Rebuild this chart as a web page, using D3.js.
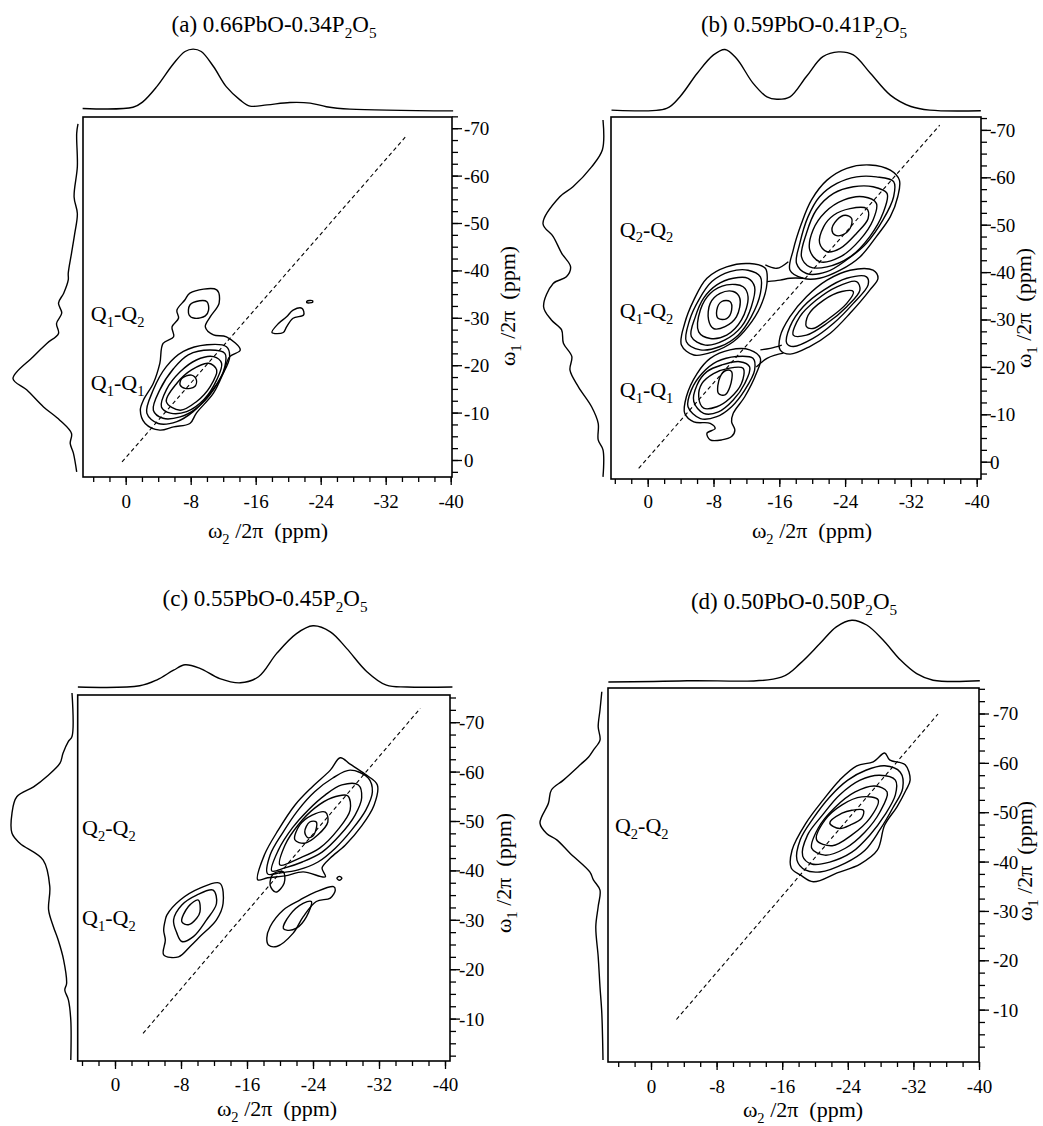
<!DOCTYPE html>
<html><head><meta charset="utf-8">
<script src="https://cdnjs.cloudflare.com/ajax/libs/d3/7.8.5/d3.min.js"></script>
<style>
body{margin:0;background:#fff}
svg{display:block}
text, tspan{font-family:"Liberation Serif","Times New Roman",serif !important;fill:#000}
</style>
</head><body>
<svg id="chart" width="1043" height="1126"></svg>
<script>
// ---------------- DATA ----------------
const xTicks = [0, -8, -16, -24, -32, -40];
const yTicksAB = [0, -10, -20, -30, -40, -50, -60, -70];
const yTicksCD = [-10, -20, -30, -40, -50, -60, -70];
const panelLetters = ["(a)", "(b)", "(c)", "(d)"];
const pboFractions = ["0.66", "0.59", "0.55", "0.50"];
const p2o5Fractions = ["0.34", "0.41", "0.45", "0.50"];

const peakLabelsA = [["1","2"], ["1","1"]];
const peakLabelsB = [["2","2"], ["1","2"], ["1","1"]];
const peakLabelsC = [["2","2"], ["1","2"]];
const peakLabelsD = [["2","2"]];

// projections: [ppm, relative intensity]
const projTopA = [[5.3,0.0],[-0.9,0.02],[-2.1,0.11],[-3.8,0.36],[-5.9,0.75],[-7.3,0.95],[-8.3,0.99],[-9.3,0.95],[-10.8,0.70],[-12.4,0.36],[-14.1,0.14],[-15.3,0.04],[-17.4,0.06],[-20.2,0.10],[-22.7,0.09],[-24.7,0.03],[-27.6,-0.01],[-40.3,-0.04]];
const projLeftA = [[-70.9,0.0],[-68.9,0.02],[-61.9,0.01],[-55.5,0.06],[-52.0,0.01],[-47.8,0.05],[-43.6,0.10],[-39.4,0.15],[-38.0,0.15],[-35.2,0.22],[-33.1,0.30],[-31.0,0.25],[-28.8,0.33],[-26.7,0.30],[-24.6,0.48],[-21.8,0.69],[-17.2,1.0],[-14.8,0.79],[-11.2,0.53],[-8.4,0.28],[-5.6,0.10],[-3.5,0.12],[-1.4,0.07],[2.5,0.02]];
const projTopB = [[4.4,-0.01],[-2.3,0.02],[-3.9,0.21],[-6.0,0.60],[-8.0,0.91],[-9.4,1.0],[-10.8,0.85],[-12.8,0.44],[-14.5,0.21],[-15.7,0.17],[-17.3,0.21],[-19.3,0.55],[-21.3,0.88],[-23.2,0.96],[-25.0,0.91],[-27.1,0.60],[-29.5,0.24],[-32.0,0.05],[-34.3,-0.01],[-40.5,-0.02]];
const projLeftB = [[-72.1,0],[-65.8,0.01],[-62.2,0.19],[-58.0,0.5],[-55.9,0.72],[-50.2,1.0],[-47.5,0.83],[-44.0,0.69],[-41.1,0.54],[-39.0,0.61],[-37.6,0.83],[-32.7,0.99],[-29.9,0.86],[-27.8,0.69],[-25.0,0.66],[-22.2,0.52],[-19.3,0.55],[-15.8,0.41],[-11.6,0.19],[-8.1,0.08],[-4.6,0.08],[-2.5,0],[3.2,0]];
const projTopC = [[4.5,0],[-3.0,0.02],[-5.1,0.12],[-7.1,0.28],[-8.5,0.37],[-10.3,0.31],[-12.7,0.14],[-15.2,0.07],[-17.4,0.17],[-19.6,0.56],[-22.0,0.89],[-24.0,1.02],[-26.1,0.92],[-28.1,0.64],[-30.5,0.26],[-32.9,0.03],[-35.4,0.0],[-40.9,0]];
const projLeftC = [[-75.9,0],[-67.1,0],[-66.1,0.06],[-63.7,0.15],[-61.7,0.2],[-59.0,0.42],[-56.9,0.64],[-54.9,0.92],[-51.6,1.0],[-47.5,1.0],[-45.5,0.87],[-42.1,0.48],[-36.7,0.37],[-32.0,0.39],[-28.6,0.31],[-25.9,0.23],[-21.9,0.14],[-17.1,0.09],[-15.8,0.12],[-13.8,0.06],[-9.7,0.02],[-1.6,0.02]];
const projTopD = [[5.2,0.0],[-4.4,0.02],[-15.9,0.08],[-18.2,0.31],[-20.6,0.64],[-22.6,0.92],[-24.5,1.03],[-26.3,0.95],[-28.3,0.70],[-30.4,0.37],[-32.4,0.14],[-34.4,0.03],[-40.1,0.02]];
const projLeftD = [[-74.4,0.02],[-70.7,0.05],[-67.3,0.08],[-64.6,0.05],[-62.6,0.16],[-61.2,0.24],[-59.6,0.38],[-56.5,0.66],[-54.5,0.86],[-51.8,0.91],[-47.8,1.05],[-45.7,0.94],[-44.4,0.77],[-41.7,0.55],[-37.9,0.22],[-36.3,0.16],[-34.2,0.05],[-30.9,0.08],[-26.8,0.12],[-20.7,0.08],[-14.6,0.05],[-9.3,0.02],[0.2,0.0]];

// DQ diagonal (omega1 = 2 omega2) end points [omega2, omega1]
const diagA = [[0.45,0.4],[-34.4,-68.1]];
const diagB = [[1.1,1.4],[-35.5,-71.0]];
const diagC = [[-3.4,-7.0],[-37.0,-72.8]];
const diagD = [[-3.1,-8.0],[-35.0,-69.9]];

// contour rings: [omega2, omega1] in ppm
const contoursA = [
 [[-7.9,-35.2],[-11.2,-35.9],[-11.5,-33.1],[-10.4,-30.2],[-9.8,-28.1],[-10.8,-26.4],[-12.4,-26.0],[-14.1,-23.2],[-12.8,-21.8],[-12.0,-18.3],[-10.8,-14.1],[-8.7,-9.9],[-7.9,-7.7],[-5.9,-7.0],[-4.2,-6.3],[-2.4,-7.7],[-1.8,-10.5],[-2.2,-12.7],[-3.4,-16.2],[-4.2,-20.4],[-4.6,-24.6],[-5.9,-26.0],[-5.7,-28.1],[-6.5,-29.9],[-6.3,-31.6],[-7.3,-33.8]],
 [[-7.9,-32.7],[-9.1,-33.6],[-10.0,-33.4],[-10.2,-31.6],[-9.8,-30.4],[-8.5,-29.9],[-7.8,-30.6]],
 [[-2.6,-9.9],[-3.4,-14.8],[-5.0,-19.7],[-7.1,-22.9],[-10.0,-24.3],[-12.4,-23.9],[-12.8,-21.8],[-12.0,-18.3],[-10.4,-14.1],[-8.3,-10.2],[-6.3,-8.1],[-4.0,-7.7]],
 [[-3.4,-10.5],[-4.2,-14.8],[-5.9,-19.3],[-7.7,-22.2],[-10.4,-23.2],[-12.2,-22.5],[-12.2,-19.7],[-10.8,-14.8],[-8.7,-10.9],[-6.7,-9.1],[-4.6,-8.8]],
 [[-4.4,-11.2],[-5.0,-14.8],[-6.7,-18.6],[-8.7,-21.1],[-10.8,-21.8],[-11.8,-20.4],[-11.2,-16.9],[-9.6,-12.7],[-7.5,-10.2],[-5.5,-9.9]],
 [[-5.0,-12.3],[-6.3,-16.2],[-8.1,-19.0],[-10.2,-20.4],[-11.2,-19.0],[-10.4,-15.5],[-8.7,-12.3],[-6.7,-10.5]],
 [[-6.9,-17.2],[-8.1,-17.9],[-8.7,-16.9],[-8.5,-15.5],[-7.3,-15.1],[-6.7,-15.8]],
 [[-18.0,-26.9],[-18.8,-28.8],[-19.8,-30.2],[-20.6,-31.6],[-21.7,-32.0],[-21.9,-30.6],[-20.6,-29.9],[-19.8,-28.1],[-19.4,-26.9]],
 [[-22.3,-33.5],[-23.0,-33.6],[-23.0,-33.3],[-22.3,-33.2]]
];
const contoursB = [
 [[-17.3,-40.4],[-17.7,-44.7],[-18.7,-50.3],[-19.9,-55.2],[-21.8,-59.4],[-24.2,-61.9],[-27.0,-62.6],[-29.5,-61.5],[-30.6,-59.4],[-30.4,-55.9],[-29.5,-51.7],[-27.8,-47.5],[-25.8,-43.2],[-23.4,-40.4],[-20.9,-38.7],[-18.9,-38.7]],
 [[-18.1,-41.8],[-18.5,-46.1],[-19.5,-51.7],[-20.9,-55.9],[-23.0,-58.7],[-25.4,-60.1],[-27.8,-60.1],[-29.9,-59.1],[-29.9,-55.9],[-28.6,-51.0],[-26.6,-46.1],[-24.2,-42.6],[-21.8,-40.1],[-19.3,-39.7]],
 [[-18.7,-43.2],[-19.3,-48.2],[-20.5,-53.1],[-22.6,-56.6],[-25.0,-58.0],[-27.4,-58.0],[-29.1,-56.6],[-28.6,-52.4],[-27.0,-47.5],[-24.6,-43.2],[-21.8,-41.1],[-19.7,-41.1]],
 [[-19.7,-44.7],[-20.1,-48.9],[-21.6,-52.7],[-23.8,-55.2],[-26.2,-55.9],[-27.8,-54.5],[-27.4,-51.0],[-25.8,-46.8],[-23.4,-43.2],[-20.9,-42.2]],
 [[-20.9,-46.1],[-21.4,-49.6],[-22.6,-52.0],[-24.6,-53.4],[-26.6,-53.4],[-26.8,-51.3],[-25.4,-48.2],[-23.4,-45.0],[-21.8,-44.3]],
 [[-22.4,-48.9],[-23.0,-51.0],[-24.0,-52.0],[-24.8,-51.3],[-24.6,-49.2],[-23.6,-47.8],[-22.8,-47.8]],
 [[-4.1,-24.6],[-4.5,-29.2],[-5.6,-34.1],[-7.2,-38.7],[-9.6,-41.1],[-12.4,-41.8],[-14.3,-40.8],[-14.5,-37.6],[-13.7,-32.7],[-12.2,-28.5],[-10.4,-25.3],[-8.0,-23.2],[-5.6,-22.5]],
 [[-4.7,-25.3],[-5.1,-29.9],[-6.2,-34.1],[-7.8,-38.0],[-10.0,-40.1],[-12.2,-40.4],[-13.7,-39.0],[-13.7,-35.5],[-12.6,-30.6],[-11.0,-26.7],[-8.8,-24.3],[-6.4,-23.6]],
 [[-5.3,-26.4],[-5.8,-30.6],[-6.8,-34.5],[-8.4,-37.3],[-10.4,-38.7],[-12.2,-38.7],[-13.0,-36.9],[-12.6,-32.7],[-11.4,-28.5],[-9.4,-25.7],[-7.0,-24.6]],
 [[-6.2,-27.4],[-6.4,-32.0],[-7.6,-35.5],[-9.6,-37.3],[-11.6,-36.9],[-12.2,-34.8],[-11.4,-29.9],[-9.6,-26.7],[-7.6,-26.0]],
 [[-7.4,-29.9],[-7.6,-33.4],[-8.8,-35.5],[-10.4,-35.9],[-11.2,-34.5],[-10.8,-30.6],[-9.4,-28.5],[-8.0,-28.1]],
 [[-8.4,-32.0],[-9.0,-33.8],[-10.0,-33.8],[-10.2,-32.0],[-9.6,-30.2],[-8.6,-30.2]],
 [[-16.1,-23.6],[-16.1,-26.4],[-17.3,-30.6],[-19.3,-34.8],[-21.8,-38.3],[-24.6,-40.4],[-27.4,-40.4],[-28.0,-38.7],[-27.0,-36.2],[-24.6,-31.3],[-22.2,-27.1],[-19.7,-24.3],[-17.3,-22.7]],
 [[-16.9,-25.0],[-17.3,-28.5],[-18.9,-32.7],[-21.4,-36.2],[-24.2,-38.7],[-26.6,-39.0],[-26.8,-37.3],[-25.0,-33.4],[-22.6,-29.2],[-20.1,-26.0],[-17.7,-24.3]],
 [[-17.7,-26.7],[-18.5,-30.6],[-20.5,-34.1],[-23.0,-36.9],[-25.4,-38.0],[-25.8,-36.2],[-24.2,-32.7],[-21.8,-29.2],[-19.3,-26.7]],
 [[-19.3,-28.5],[-19.5,-30.9],[-21.4,-34.1],[-23.6,-35.9],[-25.0,-35.9],[-24.2,-33.4],[-21.8,-29.9],[-20.1,-28.1]],
 [[-4.5,-10.2],[-4.7,-13.7],[-6.0,-18.6],[-7.6,-21.8],[-10.0,-23.6],[-12.4,-23.6],[-13.7,-21.8],[-13.2,-18.6],[-11.8,-13.7],[-10.4,-10.2],[-10.2,-8.4],[-10.6,-6.7],[-10.2,-5.3],[-9.0,-4.6],[-7.6,-4.6],[-7.2,-6.0],[-8.2,-7.0],[-7.6,-8.1],[-5.6,-8.4]],
 [[-4.9,-11.6],[-5.3,-15.1],[-6.6,-18.6],[-8.4,-21.1],[-10.8,-22.2],[-12.8,-21.8],[-13.0,-19.3],[-11.8,-15.1],[-10.2,-11.6],[-8.4,-9.5],[-6.4,-9.1]],
 [[-5.6,-12.7],[-6.0,-16.2],[-7.2,-19.0],[-9.0,-20.4],[-11.2,-21.1],[-12.4,-20.0],[-11.8,-16.5],[-10.4,-13.0],[-8.6,-10.5],[-6.8,-10.2]],
 [[-6.2,-13.7],[-6.6,-16.5],[-8.0,-18.6],[-9.8,-19.7],[-11.6,-19.7],[-11.4,-16.5],[-10.0,-13.4],[-8.4,-11.6],[-6.8,-11.3]],
 [[-8.6,-14.4],[-8.8,-17.9],[-9.6,-19.3],[-10.2,-19.0],[-10.0,-15.8],[-9.4,-14.1]]
];
const bridgesB = [
 [[-14.3,-41.5],[-15.7,-40.8],[-17.1,-42.2]],
 [[-14.5,-38.0],[-16.1,-38.3],[-17.3,-38.7],[-18.9,-38.7]],
 [[-13.7,-23.6],[-14.9,-23.9],[-16.3,-24.6]],
 [[-13.2,-20.0],[-14.5,-21.8],[-15.5,-22.5],[-16.5,-22.9]]
];
const contoursC = [
 [[-17.3,-38.1],[-18.1,-43.1],[-19.8,-48.2],[-21.8,-53.2],[-23.9,-56.9],[-26.1,-60.3],[-27.3,-62.8],[-28.5,-61.5],[-30.3,-59.5],[-31.8,-57.3],[-31.4,-53.2],[-29.9,-49.0],[-27.9,-45.1],[-26.1,-42.5],[-25.1,-40.5],[-25.5,-38.7],[-22.8,-39.7],[-20.6,-38.9],[-18.5,-38.5]],
 [[-18.5,-39.3],[-18.8,-43.1],[-20.4,-47.8],[-22.2,-52.2],[-24.2,-55.9],[-26.4,-58.7],[-28.5,-60.3],[-30.7,-58.7],[-31.2,-55.9],[-30.4,-52.2],[-28.7,-48.2],[-26.7,-44.5],[-24.6,-41.7],[-22.2,-40.1],[-20.0,-39.5]],
 [[-19.0,-39.9],[-19.8,-44.1],[-21.5,-48.6],[-23.4,-52.2],[-25.5,-55.3],[-27.5,-57.3],[-29.5,-57.3],[-29.9,-54.7],[-29.1,-51.2],[-27.3,-47.2],[-25.1,-43.7],[-22.7,-41.7],[-20.6,-40.5]],
 [[-20.0,-41.1],[-20.6,-45.1],[-22.2,-49.2],[-24.2,-52.6],[-26.3,-54.7],[-28.2,-55.1],[-28.5,-52.2],[-27.0,-48.2],[-24.8,-44.5],[-22.4,-42.5]],
 [[-21.8,-46.2],[-22.4,-49.2],[-23.9,-51.2],[-25.5,-51.8],[-25.8,-49.8],[-24.6,-47.2],[-23.0,-45.5]],
 [[-23.0,-47.8],[-23.6,-49.8],[-24.4,-49.8],[-24.1,-47.2],[-23.4,-46.6]],
 [[-19.2,-39.3],[-20.4,-39.7],[-20.5,-37.4],[-19.5,-35.6],[-18.8,-37.0]],
 [[-26.9,-38.4],[-27.2,-38.8],[-27.5,-38.4],[-27.2,-38.0]],
 [[-6.1,-30.0],[-6.3,-31.0],[-7.9,-34.0],[-10.3,-36.4],[-12.7,-37.4],[-13.1,-33.3],[-12.3,-30.0],[-10.3,-26.6],[-9.1,-24.6],[-7.7,-22.5],[-5.9,-22.9],[-6.1,-25.9],[-5.9,-27.9]],
 [[-7.1,-30.0],[-8.1,-33.0],[-9.9,-35.0],[-11.9,-36.0],[-12.3,-33.3],[-11.1,-30.0],[-9.5,-26.6],[-8.1,-25.6],[-7.5,-27.3]],
 [[-8.1,-29.6],[-8.9,-32.7],[-10.1,-34.0],[-10.3,-31.6],[-9.9,-30.3],[-8.9,-29.0]],
 [[-18.4,-26.3],[-18.8,-28.6],[-20.4,-32.0],[-22.4,-34.0],[-24.4,-35.7],[-26.5,-36.7],[-26.7,-36.0],[-26.1,-34.4],[-24.4,-33.7],[-22.8,-30.6],[-21.6,-27.3],[-19.6,-24.6],[-18.6,-24.9]],
 [[-20.4,-28.3],[-21.2,-31.0],[-22.8,-33.3],[-23.8,-33.7],[-23.2,-30.6],[-22.0,-28.3],[-20.8,-27.9]]
];
const contoursD = [
 [[-17.1,-38.7],[-17.2,-42.3],[-18.9,-47.8],[-21.0,-52.5],[-23.0,-56.5],[-25.1,-59.4],[-27.1,-60.2],[-28.5,-62.0],[-29.1,-60.6],[-31.0,-59.6],[-31.6,-56.5],[-31.1,-54.5],[-30.0,-51.1],[-28.5,-47.4],[-27.6,-42.3],[-25.5,-39.5],[-22.7,-37.7],[-19.8,-35.9],[-18.2,-37.3]],
 [[-17.8,-40.3],[-18.2,-44.4],[-19.8,-48.8],[-21.8,-53.1],[-24.0,-56.5],[-26.2,-58.5],[-28.5,-59.4],[-30.4,-58.1],[-30.7,-54.9],[-29.5,-50.9],[-27.9,-46.4],[-26.1,-42.3],[-23.7,-39.7],[-20.6,-37.9],[-18.8,-38.3]],
 [[-18.5,-41.1],[-19.1,-45.4],[-20.9,-49.4],[-23.0,-53.5],[-25.5,-56.5],[-27.9,-57.5],[-29.8,-56.5],[-29.8,-53.5],[-28.5,-49.4],[-26.7,-45.4],[-24.5,-41.9],[-21.8,-39.9],[-19.6,-39.5]],
 [[-19.6,-42.7],[-20.4,-46.8],[-22.4,-50.9],[-24.9,-54.1],[-27.3,-55.3],[-28.8,-54.1],[-27.9,-50.0],[-26.1,-46.0],[-23.7,-42.7],[-21.2,-41.3]],
 [[-20.2,-44.4],[-21.2,-48.4],[-23.3,-51.5],[-25.7,-53.1],[-27.7,-52.5],[-26.7,-48.8],[-24.5,-45.4],[-22.1,-43.2]],
 [[-21.8,-47.8],[-23.3,-49.8],[-24.5,-50.4],[-25.9,-50.4],[-25.7,-48.8],[-24.3,-47.4],[-23.0,-46.7]]
];

// ---------------- LAYOUT ----------------
const layouts = [
 {frame:[83,452,117,477], xr:[125.7,450.7], yr:[460,128.2], yTicks:yTicksAB, yMinor:[2.5,-72.5],
  topOff:8.5, topK:60, leftOff:5, leftK:65, projTop:projTopA, projLeft:projLeftA, contours:contoursA, bridges:[], diag:diagA,
  peaks:peakLabelsA, peakPos:[[4.3,-29.4],[4.3,-14.8]], title:[274,32], xlab:[268,538], ylab:[515,306], xtickY:508, ytickX:464},
 {frame:[611,981,117,479], xr:[647.7,976.7], yr:[461.7,129.9], yTicks:yTicksAB, yMinor:[2.5,-72.5],
  topOff:7.5, topK:60, leftOff:8, leftK:60, projTop:projTopB, projLeft:projLeftB, contours:contoursB, bridges:bridgesB, diag:diagB,
  peaks:peakLabelsB, peakPos:[[3.4,-47.5],[3.4,-30.3],[3.4,-13.7]], title:[804,32], xlab:[812,538], ylab:[1031,308], xtickY:508, ytickX:990},
 {frame:[77.7,450,695,1061], xr:[115,445], yr:[1068,722.2], yTicks:yTicksCD, yMinor:[-2.5,-75],
  topOff:8, topK:60, leftOff:5.7, leftK:60, projTop:projTopC, projLeft:projLeftC, contours:contoursC, bridges:[], diag:diagC,
  peaks:peakLabelsC, peakPos:[[4.0,-47.2],[4.0,-28.9]], title:[265,606], xlab:[277,1116], ylab:[511,873], xtickY:1091, ytickX:459},
 {frame:[608,979,688,1062], xr:[651,979], yr:[1059,713.5], yTicks:yTicksCD, yMinor:[-2.5,-75],
  topOff:6, topK:60, leftOff:5, leftK:60, projTop:projTopD, projLeft:projLeftD, contours:contoursD, bridges:[], diag:diagD,
  peaks:peakLabelsD, peakPos:[[4.4,-45.8]], title:[794,609], xlab:[803,1117], ylab:[1032,861], xtickY:1093, ytickX:993}
];

// ---------------- DRAW ----------------
const svg = d3.select("#chart");
const SUB = 0.66, SHIFT = 0.27;
const SERIF = '"Liberation Serif","Times New Roman",serif';

function rich(sel, parts, size) {
  let prevSub = false;
  parts.forEach(([t, sub]) => {
    const ts = sel.append("tspan").text(t);
    if (sub) ts.attr("font-size", size * SUB).attr("dy", prevSub ? 0 : size * SHIFT);
    else if (prevSub) ts.attr("dy", -size * SHIFT);
    prevSub = sub;
  });
}

layouts.forEach((L, i) => {
  const [fx0, fx1, fy0, fy1] = L.frame;
  const g = svg.append("g").attr("font-family", SERIF);
  const x = d3.scaleLinear().domain([0, -40]).range(L.xr);
  const y = d3.scaleLinear().domain([0, -70]).range(L.yr);
  const topI = d3.scaleLinear().domain([0, 1]).range([fy0 - L.topOff, fy0 - L.topOff - L.topK]);
  const leftI = d3.scaleLinear().domain([0, 1]).range([fx0 - L.leftOff, fx0 - L.leftOff - L.leftK]);

  // frame
  g.append("rect").attr("x", fx0).attr("y", fy0).attr("width", fx1 - fx0).attr("height", fy1 - fy0)
    .attr("fill", "none").attr("stroke", "#000").attr("stroke-width", 1.6);

  // bottom axis
  const gx = g.append("g").attr("transform", `translate(0,${fy1})`)
    .call(d3.axisBottom(x).tickValues(xTicks).tickSize(8).tickFormat(d => String(d)));
  const gxm = g.append("g").attr("transform", `translate(0,${fy1})`)
    .call(d3.axisBottom(x).tickValues(d3.range(4, -41, -2)).tickSize(5).tickFormat(""));
  // right axis
  const gy = g.append("g").attr("transform", `translate(${fx1},0)`)
    .call(d3.axisRight(y).tickValues(L.yTicks).tickSize(10).tickFormat(d => String(d)));
  const gym = g.append("g").attr("transform", `translate(${fx1},0)`)
    .call(d3.axisRight(y).tickValues(d3.range(L.yMinor[0], L.yMinor[1] - 0.1, -2.5)).tickSize(6).tickFormat(""));
  [gx, gxm, gy, gym].forEach(a => {
    a.select(".domain").remove();
    a.selectAll(".tick line").attr("stroke-width", 1.3);
    a.attr("font-family", SERIF).attr("font-size", 19);
  });
  gx.selectAll(".tick text").attr("y", L.xtickY - fy1).attr("dy", 0).attr("font-size", 19).attr("font-family", SERIF);
  gy.selectAll(".tick text").attr("x", L.ytickX - fx1).attr("dy", "0.34em").attr("font-size", 19).attr("font-family", SERIF);

  // title
  const tt = g.append("text").attr("x", L.title[0]).attr("y", L.title[1]).attr("text-anchor", "middle").attr("font-size", 23);
  rich(tt, [[`${panelLetters[i]} ${pboFractions[i]}PbO-${p2o5Fractions[i]}P`, false], ["2", true], ["O", false], ["5", true]], 23);

  // axis labels
  const xl = g.append("text").attr("x", L.xlab[0]).attr("y", L.xlab[1]).attr("text-anchor", "middle")
    .attr("font-size", 22).style("white-space", "pre");
  rich(xl, [["ω", false], ["2", true], [" /2π  (ppm)", false]], 22);
  const yl = g.append("text").attr("transform", `translate(${L.ylab[0]},${L.ylab[1]}) rotate(-90)`)
    .attr("text-anchor", "middle").attr("font-size", 22).style("white-space", "pre");
  rich(yl, [["ω", false], ["1", true], [" /2π  (ppm)", false]], 22);

  // projections
  g.append("path").datum(L.projTop)
    .attr("d", d3.line().x(d => x(d[0])).y(d => topI(d[1])).curve(d3.curveCatmullRom.alpha(0.5)))
    .attr("fill", "none").attr("stroke", "#000").attr("stroke-width", 1.4);
  g.append("path").datum(L.projLeft)
    .attr("d", d3.line().x(d => leftI(d[1])).y(d => y(d[0])).curve(d3.curveCatmullRom.alpha(0.5)))
    .attr("fill", "none").attr("stroke", "#000").attr("stroke-width", 1.4);

  // diagonal
  g.append("path").datum(L.diag)
    .attr("d", d3.line().x(d => x(d[0])).y(d => y(d[1])))
    .attr("fill", "none").attr("stroke", "#000").attr("stroke-width", 1.1).attr("stroke-dasharray", "4,3");

  // contours
  const ring = d3.line().x(d => x(d[0])).y(d => y(d[1])).curve(d3.curveCatmullRomClosed.alpha(0.5));
  g.append("g").selectAll("path").data(L.contours).join("path")
    .attr("d", ring).attr("fill", "none").attr("stroke", "#000").attr("stroke-width", 1.4).attr("stroke-linejoin", "round");
  const open = d3.line().x(d => x(d[0])).y(d => y(d[1])).curve(d3.curveCatmullRom.alpha(0.5));
  g.append("g").selectAll("path").data(L.bridges).join("path")
    .attr("d", open).attr("fill", "none").attr("stroke", "#000").attr("stroke-width", 1.4);

  // peak labels
  L.peaks.forEach((p, k) => {
    const t = g.append("text").attr("x", x(L.peakPos[k][0])).attr("y", y(L.peakPos[k][1])).attr("font-size", 22);
    rich(t, [["Q", false], [p[0], true], ["-Q", false], [p[1], true]], 22);
  });
});
</script>
</body></html>
